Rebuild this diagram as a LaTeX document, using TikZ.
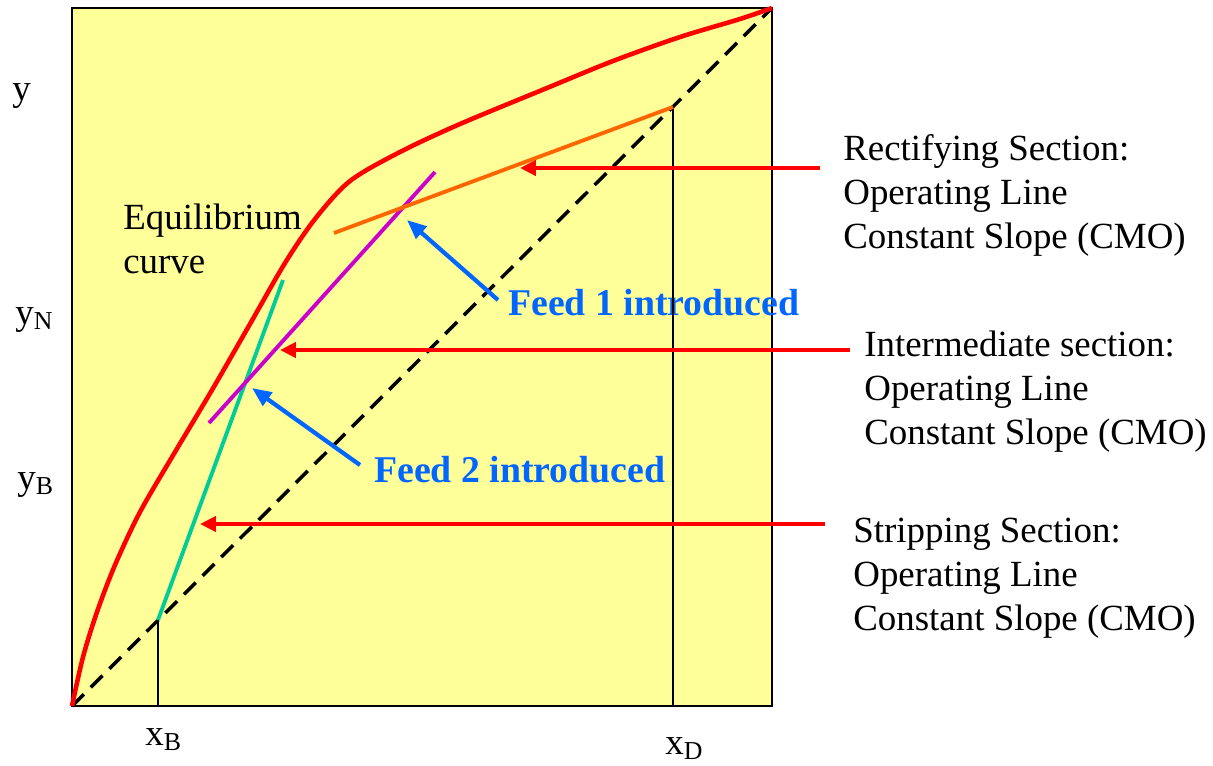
\documentclass[tikz,border=0pt]{standalone}
\usepackage{fontspec}
\setmainfont{Liberation Serif}
\usetikzlibrary{arrows.meta}
\definecolor{chartyellow}{RGB}{255,255,153}
\definecolor{feedblue}{RGB}{0,102,255}
\definecolor{rectorange}{RGB}{255,102,0}
\definecolor{intermagenta}{RGB}{204,0,204}
\definecolor{stripgreen}{RGB}{0,204,153}
\tikzstyle{axistext} = [font=\fontsize{21}{25}\selectfont, inner sep=0pt, anchor=base west]
\tikzstyle{sectiontext} = [axistext, align=left]
\tikzstyle{feedtext} = [axistext, font=\fontsize{21.5}{25}\selectfont\bfseries, text=feedblue]
\tikzstyle{opline} = [line width=2.2pt]
\tikzstyle{guide} = [draw=black, line width=0.8pt]
\tikzstyle{arrow} = [draw=red, line width=2.4pt, -{Triangle[length=9pt,width=8.5pt]}]
\tikzstyle{feedarrow} = [draw=feedblue, line width=2.4pt, -{Triangle[length=11pt,width=9pt]}]

\begin{document}
\begin{tikzpicture}[x=0.02cm, y=-0.02cm]
        \useasboundingbox (0,0) rectangle (1213,765);
        % Chart area
        \draw [fill=chartyellow, line width=1.2pt] (72,8) rectangle (772,706);
        \draw [line width=2pt, dash pattern=on 9.5pt off 5.5pt] (72,706) -- (772,8);
        \draw [red, line width=2.6pt] plot [smooth, tension=0.5] coordinates {(72,706) (83,657) (97,612) (115,565) (140,512) (175,452) (212,390) (250,324) (285,263) (315,219) (350,181) (400,152) (460,124) (547,88) (613,61) (680,37) (740,19) (772,8)};
        % Place coordinates
        \coordinate (xBtop) at (158,620);
        \coordinate (xBfoot) at (158,706);
        \coordinate (xDtop) at (673,107);
        \coordinate (xDfoot) at (673,706);
        \coordinate (stripend) at (283,280);
        \coordinate (interlow) at (209,423);
        \coordinate (interhigh) at (435,172);
        \coordinate (rectlow) at (334,233);
        \coordinate (recttip) at (520,168);
        \coordinate (recttail) at (820,168);
        \coordinate (intertip) at (280,350);
        \coordinate (intertail) at (850,350);
        \coordinate (striptip) at (200,524);
        \coordinate (striptail) at (825,524);
        \coordinate (feedAtip) at (407,220);
        \coordinate (feedAtail) at (498,300);
        \coordinate (feedBtip) at (252,388);
        \coordinate (feedBtail) at (360,465);
        % Place nodes
        \node [axistext] (y) at (12,100) {y};
        \node [axistext] (yN) at (15,324) {y\textsubscript{N}};
        \node [axistext] (yB) at (17,489) {y\textsubscript{B}};
        \node [axistext] (xB) at (145,745) {x\textsubscript{B}};
        \node [axistext] (xD) at (665,754) {x\textsubscript{D}};
        \node [sectiontext] (equil) at (123,273) {Equilibrium\\curve};
        \node [feedtext] (feedA) at (508,315) {Feed 1 introduced};
        \node [feedtext] (feedB) at (374,482) {Feed 2 introduced};
        \node [sectiontext] (rect) at (843,248) {Rectifying Section:\\Operating Line\\Constant Slope (CMO)};
        \node [sectiontext] (inter) at (864,444) {Intermediate section:\\Operating Line\\Constant Slope (CMO)};
        \node [sectiontext] (strip) at (853,630) {Stripping Section:\\Operating Line\\Constant Slope (CMO)};
        % Draw edges
        \path [guide] (xBtop) -- (xBfoot);
        \path [guide] (xDtop) -- (xDfoot);
        \draw [opline, stripgreen] (xBtop) -- (stripend);
        \draw [opline, intermagenta] (interlow) -- (interhigh);
        \draw [opline, rectorange] (rectlow) -- (xDtop);
        \path [arrow] (recttail) -- (recttip);
        \path [arrow] (intertail) -- (intertip);
        \path [arrow] (striptail) -- (striptip);
        \path [feedarrow] (feedAtail) -- (feedAtip);
        \path [feedarrow] (feedBtail) -- (feedBtip);
    \end{tikzpicture}
\end{document}
